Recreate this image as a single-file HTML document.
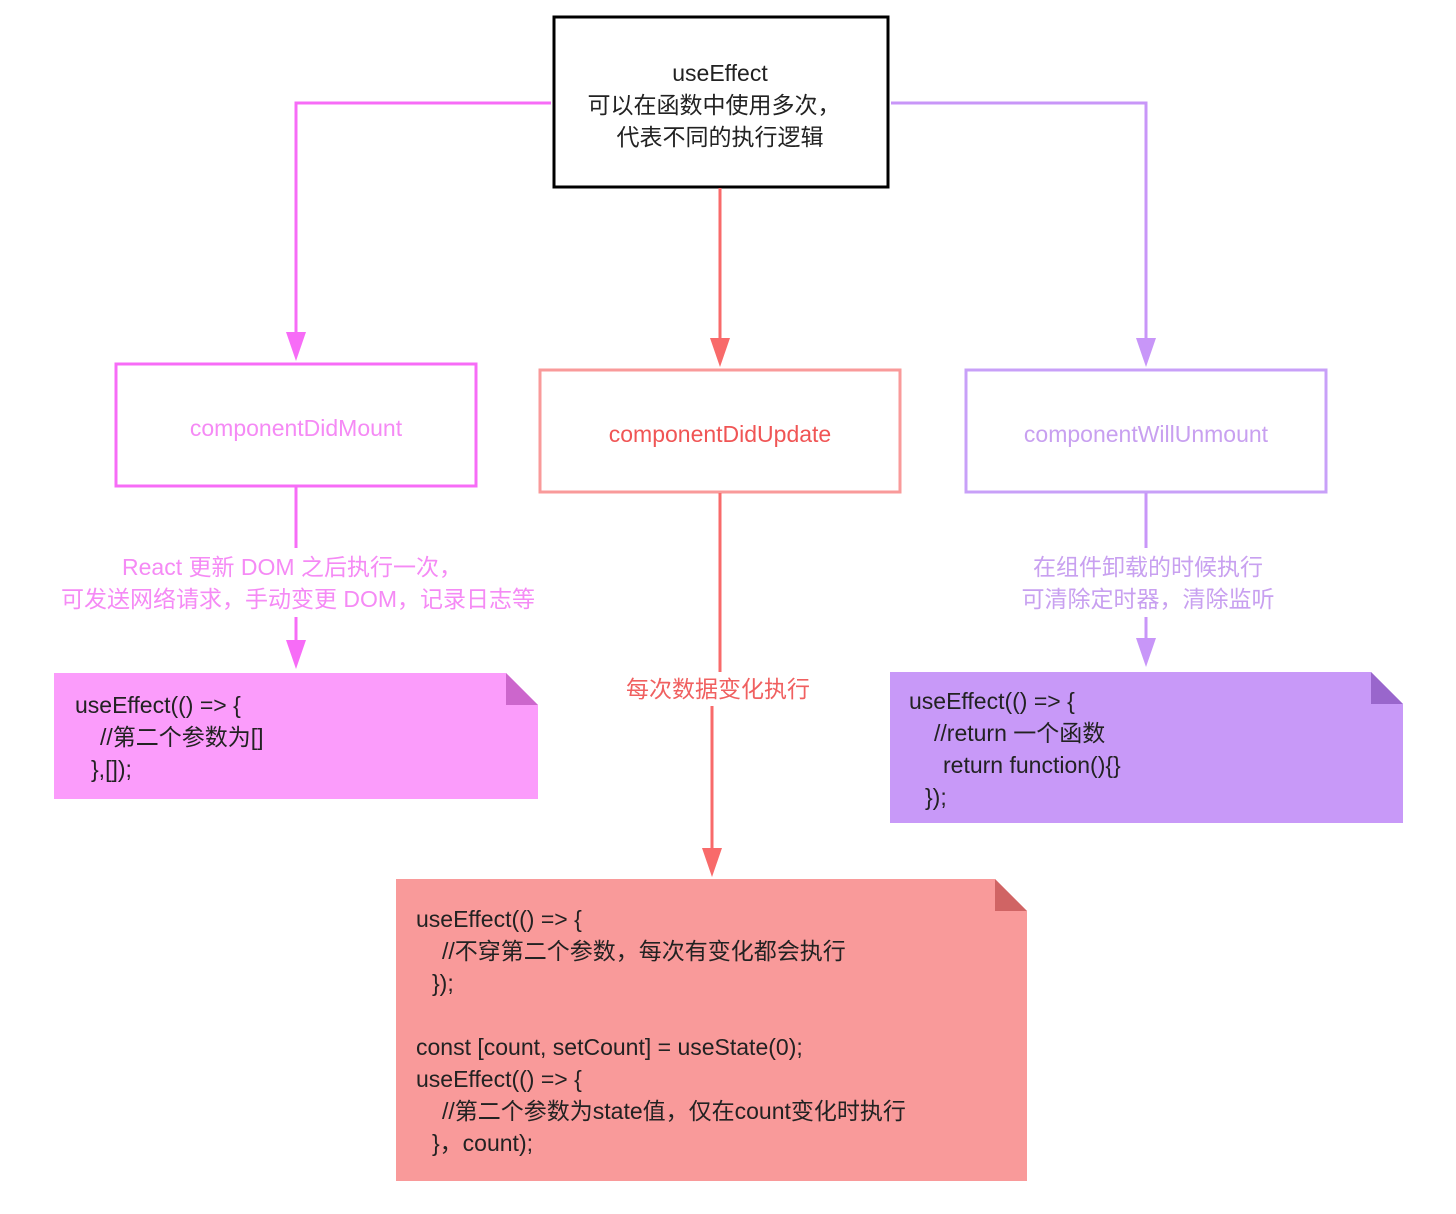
<!DOCTYPE html>
<html><head><meta charset="utf-8"><style>
html,body{margin:0;padding:0;background:#fff;}
svg{display:block;}
text{font-family:"Liberation Sans","Noto Sans CJK SC",sans-serif;font-size:23px;}
</style></head><body>
<svg width="1456" height="1214" viewBox="0 0 1456 1214" xmlns="http://www.w3.org/2000/svg">
<rect width="1456" height="1214" fill="#fff"/>
<!-- top box -->
<rect x="554" y="17" width="334" height="170" fill="#fff" stroke="#000" stroke-width="3"/>
<g text-anchor="middle" fill="#222">
<text x="720" y="81">useEffect</text>
<text x="714" y="113">可以在函数中使用多次，</text>
<text x="720" y="145">代表不同的执行逻辑</text>
</g>
<!-- left connector -->
<polyline points="551,103 296,103 296,340" fill="none" stroke="#f76cf7" stroke-width="3"/>
<polygon points="286,332 306,332 296,361" fill="#f76cf7"/>
<rect x="116" y="364" width="360" height="122" fill="#fff" stroke="#f76cf7" stroke-width="3"/>
<text x="296" y="436" text-anchor="middle" fill="#f58af5">componentDidMount</text>
<line x1="296" y1="487" x2="296" y2="548" stroke="#f76cf7" stroke-width="3"/>
<g text-anchor="middle" fill="#f58af5">
<text x="292" y="575">React 更新 DOM 之后执行一次，</text>
<text x="298" y="607">可发送网络请求，手动变更 DOM，记录日志等</text>
</g>
<line x1="296" y1="617" x2="296" y2="648" stroke="#f76cf7" stroke-width="3"/>
<polygon points="286,640 306,640 296,669" fill="#f76cf7"/>
<polygon points="54,673 506,673 538,705 538,799 54,799" fill="#fb9cfb"/>
<polygon points="506,673 538,705 506,705" fill="#cc66cc"/>
<g fill="#222">
<text x="75" y="713">useEffect(() =&gt; {</text>
<text x="100" y="745">//第二个参数为[]</text>
<text x="91" y="777">},[]);</text>
</g>
<!-- middle -->
<line x1="720" y1="188" x2="720" y2="345" stroke="#f86a6a" stroke-width="3"/>
<polygon points="710,338 730,338 720,367" fill="#f86a6a"/>
<rect x="540" y="370" width="360" height="122" fill="#fff" stroke="#f99a9a" stroke-width="3"/>
<text x="720" y="442" text-anchor="middle" fill="#f05555">componentDidUpdate</text>
<line x1="720" y1="493" x2="720" y2="672" stroke="#f86a6a" stroke-width="3"/>
<text x="718" y="697" text-anchor="middle" fill="#f06060">每次数据变化执行</text>
<line x1="712" y1="706" x2="712" y2="855" stroke="#f86a6a" stroke-width="3"/>
<polygon points="702,848 722,848 712,877" fill="#f86a6a"/>
<polygon points="396,879 995,879 1027,911 1027,1181 396,1181" fill="#f99a9a"/>
<polygon points="995,879 1027,911 995,911" fill="#d06464"/>
<g fill="#222">
<text x="416" y="927">useEffect(() =&gt; {</text>
<text x="442" y="959">//不穿第二个参数，每次有变化都会执行</text>
<text x="432" y="991">});</text>
<text x="416" y="1055">const [count, setCount] = useState(0);</text>
<text x="416" y="1087">useEffect(() =&gt; {</text>
<text x="442" y="1119">//第二个参数为state值，仅在count变化时执行</text>
<text x="432" y="1151">}，count);</text>
</g>
<!-- right -->
<polyline points="891,103 1146,103 1146,345" fill="none" stroke="#c896f8" stroke-width="3"/>
<polygon points="1136,338 1156,338 1146,367" fill="#c896f8"/>
<rect x="966" y="370" width="360" height="122" fill="#fff" stroke="#c8a0f8" stroke-width="3"/>
<text x="1146" y="442" text-anchor="middle" fill="#c8a0f0">componentWillUnmount</text>
<line x1="1146" y1="493" x2="1146" y2="548" stroke="#c896f8" stroke-width="3"/>
<g text-anchor="middle" fill="#c8a0f0">
<text x="1148" y="575">在组件卸载的时候执行</text>
<text x="1148" y="607">可清除定时器，清除监听</text>
</g>
<line x1="1146" y1="617" x2="1146" y2="646" stroke="#c896f8" stroke-width="3"/>
<polygon points="1136,638 1156,638 1146,667" fill="#c896f8"/>
<polygon points="890,672 1371,672 1403,704 1403,823 890,823" fill="#c899f8"/>
<polygon points="1371,672 1403,704 1371,704" fill="#9966cc"/>
<g fill="#222">
<text x="909" y="709">useEffect(() =&gt; {</text>
<text x="934" y="741">//return 一个函数</text>
<text x="943" y="773">return function(){}</text>
<text x="925" y="805">});</text>
</g>
</svg>
</body></html>
